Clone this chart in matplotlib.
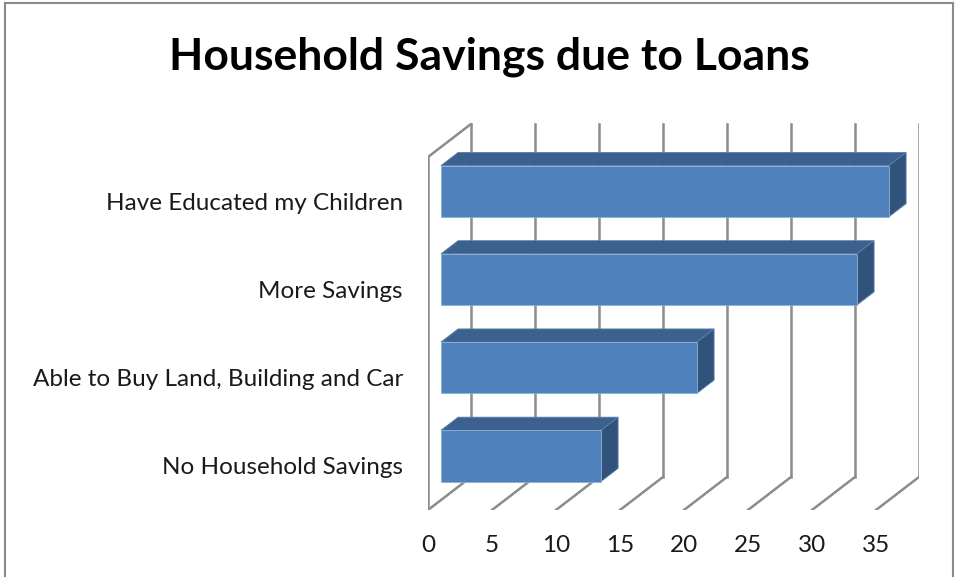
import matplotlib
matplotlib.use("Agg")
import matplotlib.pyplot as plt
from matplotlib.patches import Polygon, Rectangle
from matplotlib.lines import Line2D

categories = ["No Household Savings", "Able to Buy Land, Building and Car",
              "More Savings", "Have Educated my Children"]
values = [12.5, 20.0, 32.5, 35.0]
ticks = [0, 5, 10, 15, 20, 25, 30, 35]

W, H = 958, 577
fig = plt.figure(figsize=(W / 100, H / 100), dpi=100)
plt.rcParams['font.family'] = ['Lato', 'DejaVu Sans']

# axes placement (pixel geometry of front plane + depth)
left_px, right_px, bot_px, top_px = 428, 919, 510, 123
ax = fig.add_axes([left_px / W, (H - bot_px) / H, (right_px - left_px) / W, (bot_px - top_px) / H])
px_per_unit_x = 12.8
px_per_cat = 88.25
ax.set_xlim(0, (right_px - left_px) / px_per_unit_x)
ax.set_ylim(-0.5, -0.5 + (bot_px - top_px) / px_per_cat)
ax.axis('off')

Dx = 43 / px_per_unit_x
Dy = 33 / px_per_cat
n = len(categories)
ybot, ytop = -0.5, n - 0.5
grid_c = '#8c8c8c'
lw = 1.8

# back wall gridlines and floor diagonals
for v in ticks:
    ax.add_line(Line2D([v + Dx, v + Dx], [ybot + Dy, ytop + Dy], color=grid_c, lw=lw, zorder=1))
    ax.add_line(Line2D([v, v + Dx], [ybot, ybot + Dy], color=grid_c, lw=lw, zorder=1))
# left side wall
ax.add_line(Line2D([0, 0], [ybot, ytop], color=grid_c, lw=lw, zorder=1))
ax.add_line(Line2D([0, Dx], [ytop, ytop + Dy], color=grid_c, lw=lw, zorder=1))

front_c = '#4f81bd'
top_c = '#3c618f'
side_c = '#31527b'
d0, d1 = 0.3, 0.7
h = 0.58
for i, val in enumerate(values):
    yb = i - h / 2
    yt = i + h / 2
    x0 = d0 * Dx
    # top face
    ax.add_patch(Polygon([(x0, yt + d0 * Dy), (x0 + val, yt + d0 * Dy),
                          (d1 * Dx + val, yt + d1 * Dy), (d1 * Dx, yt + d1 * Dy)],
                         closed=True, facecolor=top_c, edgecolor='#5d7fa8', lw=0.6, zorder=3))
    # side face
    ax.add_patch(Polygon([(x0 + val, yb + d0 * Dy), (x0 + val, yt + d0 * Dy),
                          (d1 * Dx + val, yt + d1 * Dy), (d1 * Dx + val, yb + d1 * Dy)],
                         closed=True, facecolor=side_c, edgecolor='#5d7fa8', lw=0.6, zorder=3))
    # front face
    ax.add_patch(Rectangle((x0, yb + d0 * Dy), val, h, facecolor=front_c,
                           edgecolor='#8eaed6', lw=0.6, zorder=4))

# category labels
for i, cat in enumerate(categories):
    ax.annotate(cat, xy=(0, i), xytext=(-25, -2), textcoords='offset pixels',
                ha='right', va='center', fontsize=17.5, color='#1a1a1a', annotation_clip=False)

# value tick labels
for v in ticks:
    ax.annotate(str(v), xy=(v, ybot), xytext=(0, -35), textcoords='offset pixels',
                ha='center', va='center', fontsize=17.5, color='#1a1a1a', annotation_clip=False)

fig.text(489 / W, 1 - 57 / H, "Household Savings due to Loans", ha='center', va='center',
         fontsize=32, fontweight='bold', color='black')

# chart border
bc = '#8a8a8a'
fig.add_artist(Line2D([5 / W, 5 / W], [0, 1 - 3 / H], color=bc, lw=1.5))
fig.add_artist(Line2D([5 / W, 953 / W], [1 - 3 / H, 1 - 3 / H], color=bc, lw=1.5))
fig.add_artist(Line2D([953 / W, 953 / W], [0, 1 - 3 / H], color=bc, lw=1.5))

fig.savefig("out.png", dpi=100)
